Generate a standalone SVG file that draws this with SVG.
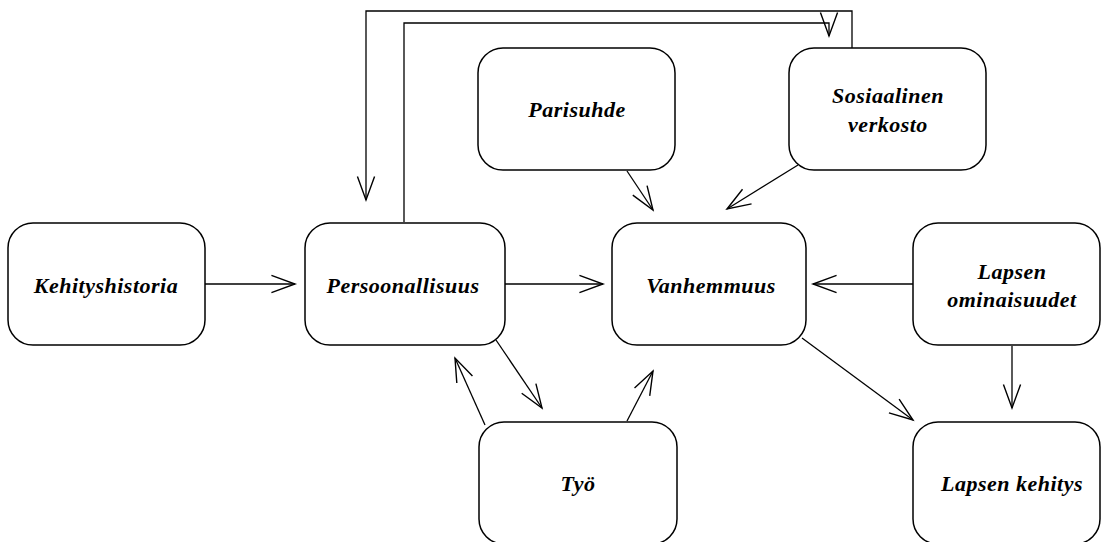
<svg xmlns="http://www.w3.org/2000/svg" width="1105" height="542" viewBox="0 0 1105 542">
<style>
.n{fill:#fff;stroke:#000;stroke-width:1.5}
.t{font-family:"Liberation Serif","Times New Roman",serif;font-weight:bold;font-style:italic;font-size:22px;letter-spacing:0.5px;text-anchor:middle;fill:#000}
.c{fill:none;stroke:#000;stroke-width:1.3;marker-end:url(#a)}
</style>
<defs>
<marker id="a" markerUnits="userSpaceOnUse" markerWidth="30" markerHeight="30" refX="22" refY="0" viewBox="-2 -12 28 24" orient="auto" overflow="visible">
<path d="M0,-8 L22,0 L0,8" fill="none" stroke="#000" stroke-width="1.3"/>
</marker>
</defs>
<g id="connectors">
<path class="c" d="M852,48 V11 H366 V200"/>
<path class="c" d="M404,222 V23 H829 V36"/>
<path class="c" d="M205,284 H295"/>
<path class="c" d="M505,284 H603"/>
<path class="c" d="M913,284 H813"/>
<path class="c" d="M627,171 L653,210"/>
<path class="c" d="M798,165 L727,209"/>
<path class="c" d="M496,340 L542,408"/>
<path class="c" d="M485,425 L455,358"/>
<path class="c" d="M627,421 L653,371"/>
<path class="c" d="M802,338 L913,420"/>
<path class="c" d="M1012,346 V408"/>
</g>
<g id="kehityshistoria"><rect class="n" x="8" y="223" width="197" height="122" rx="25"/><text class="t" x="106" y="293">Kehityshistoria</text></g>
<g id="persoonallisuus"><rect class="n" x="305" y="223" width="200" height="122" rx="25"/><text class="t" x="403" y="293">Persoonallisuus</text></g>
<g id="vanhemmuus"><rect class="n" x="612" y="223" width="194" height="122" rx="25"/><text class="t" x="711" y="293">Vanhemmuus</text></g>
<g id="lapsen-ominaisuudet"><rect class="n" x="913" y="223" width="187" height="122" rx="25"/><text class="t" x="1012" y="279">Lapsen</text><text class="t" x="1012" y="307">ominaisuudet</text></g>
<g id="parisuhde"><rect class="n" x="478" y="48" width="197" height="122" rx="25"/><text class="t" x="577" y="117">Parisuhde</text></g>
<g id="sosiaalinen-verkosto"><rect class="n" x="789" y="48" width="197" height="122" rx="25"/><text class="t" x="888" y="103">Sosiaalinen</text><text class="t" x="888" y="132">verkosto</text></g>
<g id="tyo"><rect class="n" x="479" y="422" width="198" height="122" rx="25"/><text class="t" x="578" y="491">Työ</text></g>
<g id="lapsen-kehitys"><rect class="n" x="913" y="422" width="187" height="122" rx="25"/><text class="t" x="1012" y="491">Lapsen kehitys</text></g>
</svg>
